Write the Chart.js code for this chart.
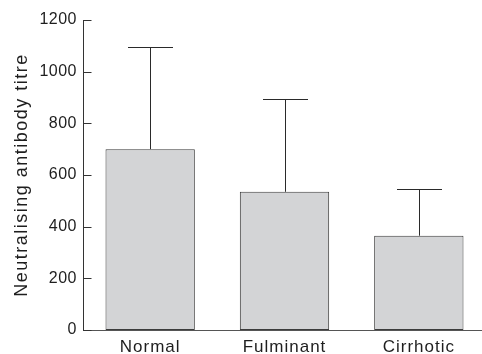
<!DOCTYPE html>
<html><head><meta charset="utf-8">
<script src="https://cdn.jsdelivr.net/npm/chart.js@4/dist/chart.umd.min.js"></script>
<style>html,body{margin:0;padding:0;background:#fff;overflow:hidden}#wrap{width:482px;height:354px;position:relative;overflow:hidden}canvas{display:block}</style>
</head><body><div id="wrap"><canvas id="c" width="486" height="354"></canvas></div>
<script>
const categories = ['Normal', 'Fulminant', 'Cirrhotic'];
const meanTitre = [700, 535, 365];
const sdTitre = [395, 358, 180];
const yTicks = [0, 200, 400, 600, 800, 1000, 1200];
const yTitle = 'Neutralising antibody titre';

const FAMILY = "'Liberation Sans', Arial, Helvetica, sans-serif";
const TEXT = '#1e1e1e';
const AXIS = '#333';

const spacingPlugin = {
  id: 'spacing',
  beforeInit(chart) {
    const ctx = chart.ctx;
    const orig = ctx.fillText.bind(ctx);
    ctx.fillText = function (t, x, y, mw) {
      const m = /(\d+(?:\.\d+)?)px/.exec(ctx.font);
      const sz = m ? +m[1] : 0;
      ctx.letterSpacing = sz === 18 ? '1.5px' : sz === 17 ? '1px' : sz === 16 ? '0.5px' : '0px';
      if (mw === undefined) orig(t, x, y); else orig(t, x, y, mw);
      ctx.letterSpacing = '0px';
    };
  }
};

const tickPlugin = {
  id: 'innerTicks',
  afterDatasetsDraw(chart) {
    const ctx = chart.ctx, ys = chart.scales.y, left = chart.chartArea.left;
    ctx.save();
    ctx.strokeStyle = AXIS;
    ctx.lineWidth = 1;
    ys.ticks.forEach(t => {
      const y = Math.round(ys.getPixelForValue(t.value)) + 0.5;
      ctx.beginPath();
      ctx.moveTo(left, y);
      ctx.lineTo(left + 8.5, y);
      ctx.stroke();
    });
    ctx.restore();
  }
};

const errorPlugin = {
  id: 'errorBars',
  afterDatasetsDraw(chart) {
    const ctx = chart.ctx, ys = chart.scales.y;
    const meta = chart.getDatasetMeta(0);
    ctx.save();
    ctx.strokeStyle = '#2a2a2a';
    ctx.lineWidth = 1;
    meta.data.forEach((bar, i) => {
      const x = Math.round(bar.x) + 0.5;
      const yTop = Math.round(ys.getPixelForValue(meanTitre[i] + sdTitre[i])) + 0.5;
      const yBase = ys.getPixelForValue(meanTitre[i]);
      const half = bar.width * 0.25;
      ctx.beginPath();
      ctx.moveTo(x, yBase);
      ctx.lineTo(x, yTop);
      ctx.moveTo(Math.round(x - half), yTop);
      ctx.lineTo(Math.round(x + half), yTop);
      ctx.stroke();
    });
    ctx.restore();
  }
};

new Chart(document.getElementById('c'), {
  type: 'bar',
  data: {
    labels: categories,
    datasets: [{
      data: meanTitre,
      backgroundColor: '#d3d4d6',
      borderColor: '#3c3c3c',
      borderWidth: 1,
      borderSkipped: false,
      categoryPercentage: 1,
      barPercentage: 0.665
    }]
  },
  options: {
    responsive: false,
    animation: false,
    devicePixelRatio: 1,
    layout: { padding: { top: 20, right: 0, left: 0, bottom: 0 } },
    plugins: { legend: { display: false }, tooltip: { enabled: false } },
    scales: {
      x: {
        grid: { display: false, drawTicks: false },
        border: { display: true, color: '#555', width: 1 },
        ticks: { color: TEXT, font: { family: FAMILY, size: 17 }, padding: 7 },
        afterFit(s) { s.height = 24; }
      },
      y: {
        min: 0, max: 1200,
        afterBuildTicks(s) { s.ticks = yTicks.map(v => ({ value: v })); },
        grid: { display: false, drawTicks: false },
        border: { display: true, color: AXIS, width: 1 },
        ticks: { color: TEXT, font: { family: FAMILY, size: 16 }, padding: 6, callback: v => String(v) },
        title: { display: true, text: yTitle, color: TEXT, font: { family: FAMILY, size: 18 }, padding: { top: 11, bottom: 0 } },
        afterFit(s) { s.width = 83; }
      }
    }
  },
  plugins: [spacingPlugin, tickPlugin, errorPlugin]
});
</script></body></html>
